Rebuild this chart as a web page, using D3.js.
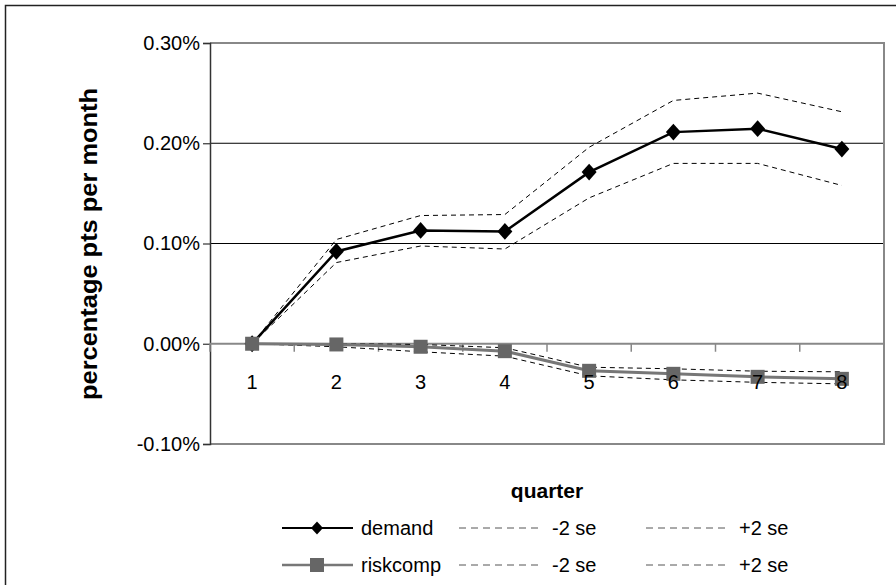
<!DOCTYPE html>
<html>
<head>
<meta charset="utf-8">
<script src="https://cdn.jsdelivr.net/npm/d3@7"></script>
<style>
  body { margin: 0; background: #fff; }
  text { font-family: "Liberation Sans", Arial, sans-serif; }
</style>
</head>
<body>
<svg id="chart" width="896" height="585"></svg>
<script>
var quarters = [1, 2, 3, 4, 5, 6, 7, 8];
var demand      = [0, 0.000921, 0.001130, 0.001120, 0.001712, 0.002111, 0.002145, 0.001942];
var demandLow   = [0, 0.000810, 0.000975, 0.000945, 0.001455, 0.001799, 0.001799, 0.001579];
var demandHigh  = [0, 0.001040, 0.001279, 0.001289, 0.001960, 0.002427, 0.002500, 0.002314];
var riskcomp     = [0, -0.000007, -0.000030, -0.000074, -0.000270, -0.000300, -0.000330, -0.000350];
var riskcompLow  = [0, -0.000030, -0.000080, -0.000124, -0.000320, -0.000360, -0.000385, -0.000400];
var riskcompHigh = [0, 0.000000, -0.000007, -0.000040, -0.000234, -0.000250, -0.000274, -0.000280];
var yTicks = [-0.001, 0, 0.001, 0.002, 0.003];

var svg = d3.select('#chart');
var plotLeft = 210, plotRight = 884, plotTop = 43, plotBottom = 444;

svg.append('rect').attr('x', 0).attr('y', 0).attr('width', 896).attr('height', 585).attr('fill', '#fff');
// outer chart frame
svg.append('rect').attr('x', 5.5).attr('y', 5.5).attr('width', 900).attr('height', 600)
    .attr('fill', 'none').attr('stroke', '#222').attr('stroke-width', 1.5);

var x = d3.scalePoint().domain(quarters).range([plotLeft, plotRight]).padding(0.5);
var step = x.step();
var y = d3.scaleLinear().domain([-0.001, 0.003]).range([plotBottom, plotTop]);
var pct = d3.formatLocale({ decimal: '.', thousands: ',', grouping: [3], currency: ['', ''], minus: '-' }).format('.2%');

// gridlines
svg.append('g').selectAll('line').data(yTicks.filter(function(d) { return d > 0; }))
    .enter().append('line')
    .attr('x1', plotLeft).attr('x2', plotRight)
    .attr('y1', function(d) { return y(d); }).attr('y2', function(d) { return y(d); })
    .attr('stroke', '#000').attr('stroke-width', 1);

// plot border (top, right, bottom) gray
svg.append('path')
    .attr('d', 'M' + plotLeft + ',' + plotTop + 'H' + plotRight + 'V' + plotBottom + 'H' + plotLeft)
    .attr('fill', 'none').attr('stroke', '#888').attr('stroke-width', 2);

// y axis
var yAxis = svg.append('g').attr('transform', 'translate(' + plotLeft + ',0)')
    .call(d3.axisLeft(y).tickValues(yTicks).tickFormat(pct).tickSize(7).tickPadding(3));
yAxis.select('.domain').attr('stroke', '#333').attr('stroke-width', 1.5);
yAxis.selectAll('.tick line').attr('stroke', '#333').attr('stroke-width', 1.2);
yAxis.selectAll('text').attr('font-size', 20).attr('fill', '#000')
    .style('font-family', '"Liberation Sans", Arial, sans-serif');

// zero line with ticks at category boundaries
svg.append('line').attr('x1', plotLeft).attr('x2', plotRight).attr('y1', y(0)).attr('y2', y(0))
    .attr('stroke', '#888').attr('stroke-width', 2);
var bounds = quarters.map(function(q) { return x(q) - step / 2; }).concat([plotRight]);
svg.append('g').selectAll('line').data(bounds).enter().append('line')
    .attr('x1', function(d) { return d; }).attr('x2', function(d) { return d; })
    .attr('y1', y(0)).attr('y2', y(0) + 8)
    .attr('stroke', '#888').attr('stroke-width', 1.5);

var line = d3.line().x(function(d, i) { return x(quarters[i]); }).y(function(d) { return y(d); });

function dashed(values) {
    svg.append('path').datum(values).attr('d', line)
        .attr('fill', 'none').attr('stroke', '#000').attr('stroke-width', 1)
        .attr('stroke-dasharray', '5,4');
}
dashed(demandLow);
dashed(demandHigh);
dashed(riskcompLow);
dashed(riskcompHigh);

// demand
svg.append('path').datum(demand).attr('d', line)
    .attr('fill', 'none').attr('stroke', '#000').attr('stroke-width', 2.5);
var diamond = d3.symbol().type(d3.symbolSquare).size(112);
svg.append('g').selectAll('path').data(demand).enter().append('path')
    .attr('d', diamond)
    .attr('transform', function(d, i) { return 'translate(' + x(quarters[i]) + ',' + y(d) + ') scale(1,1.12) rotate(45)'; })
    .attr('fill', '#000');

// riskcomp
svg.append('path').datum(riskcomp).attr('d', line)
    .attr('fill', 'none').attr('stroke', '#777').attr('stroke-width', 3);
svg.append('g').selectAll('rect').data(riskcomp).enter().append('rect')
    .attr('x', function(d, i) { return x(quarters[i]) - 7; })
    .attr('y', function(d) { return y(d) - 7; })
    .attr('width', 14).attr('height', 14).attr('fill', '#666');

// category labels
svg.append('g').selectAll('text').data(quarters).enter().append('text')
    .attr('x', function(d) { return x(d); }).attr('y', y(0) + 45)
    .attr('text-anchor', 'middle').attr('font-size', 20).text(function(d) { return d; });

// axis titles
svg.append('text').attr('x', 547).attr('y', 498).attr('text-anchor', 'middle')
    .attr('font-size', 21).attr('font-weight', 'bold').text('quarter');
svg.append('text').attr('transform', 'translate(97,244) rotate(-90)')
    .attr('text-anchor', 'middle').attr('font-size', 23).attr('font-weight', 'bold')
    .attr('textLength', 312).attr('lengthAdjust', 'spacingAndGlyphs')
    .text('percentage pts per month');

// legend
var legendRows = [
    { name: 'demand', color: '#000', width: 2, marker: 'diamond', y: 528 },
    { name: 'riskcomp', color: '#777', width: 2.5, marker: 'square', y: 565 }
];
legendRows.forEach(function(r) {
    var g = svg.append('g');
    g.append('line').attr('x1', 282).attr('x2', 353).attr('y1', r.y).attr('y2', r.y)
        .attr('stroke', r.color).attr('stroke-width', r.width);
    if (r.marker == 'diamond') {
        g.append('path').attr('d', d3.symbol().type(d3.symbolSquare).size(72))
            .attr('transform', 'translate(317,' + r.y + ') scale(1,1.1) rotate(45)').attr('fill', '#000');
    } else {
        g.append('rect').attr('x', 310).attr('y', r.y - 7).attr('width', 14).attr('height', 14).attr('fill', '#666');
    }
    g.append('text').attr('x', 361).attr('y', r.y).attr('dy', '0.35em').attr('font-size', 20).text(r.name);
    [[459, 540, '-2 se'], [646, 727, '+2 se']].forEach(function(s) {
        g.append('line').attr('x1', s[0]).attr('x2', s[1]).attr('y1', r.y).attr('y2', r.y)
            .attr('stroke', '#555').attr('stroke-width', 1).attr('stroke-dasharray', '7,5');
        g.append('text').attr('x', s[1] + 12).attr('y', r.y).attr('dy', '0.35em').attr('font-size', 20).text(s[2]);
    });
});
</script>
</body>
</html>
